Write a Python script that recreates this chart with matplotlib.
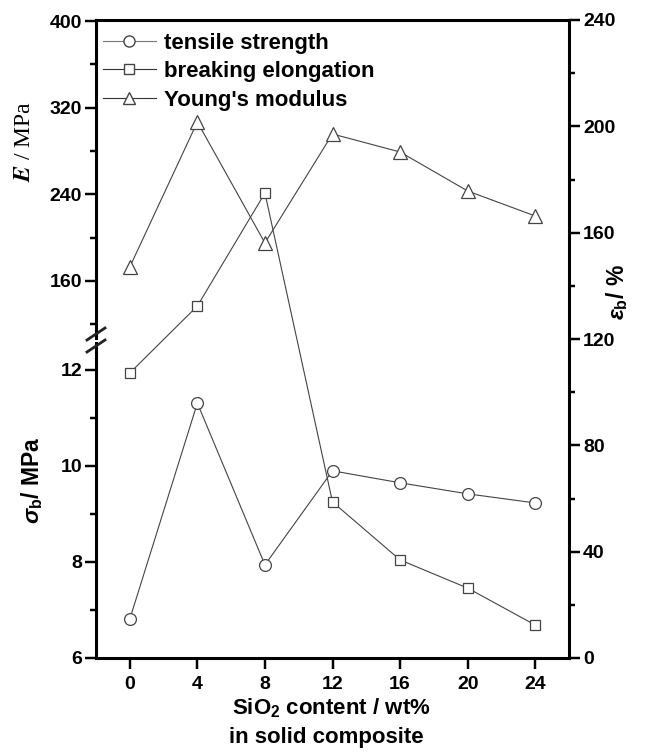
import matplotlib
matplotlib.use("Agg")
import matplotlib.pyplot as plt
from matplotlib.ticker import MultipleLocator
from matplotlib.lines import Line2D

plt.rcParams['font.family'] = ['Liberation Sans', 'DejaVu Sans']
plt.rcParams['font.weight'] = 'bold'
plt.rcParams['mathtext.fontset'] = 'custom'
plt.rcParams['mathtext.rm'] = 'Liberation Sans:bold'
plt.rcParams['mathtext.it'] = 'Liberation Sans:italic:bold'
plt.rcParams['mathtext.bf'] = 'Liberation Sans:bold'

# SiO2 content (wt%)
sio2 = [0, 4, 8, 12, 16, 20, 24]
# tensile strength sigma_b (MPa), left lower axis
tensile = [6.81, 11.31, 7.94, 9.90, 9.65, 9.42, 9.23]
# breaking elongation eps_b (%), right axis
elongation = [107.2, 132.4, 174.9, 58.7, 36.9, 26.3, 12.4]
# Young's modulus E (MPa), left upper axis
modulus = [172.9, 306.8, 195.1, 295.7, 279.1, 243.1, 220.0]

W, H = 652, 754
fig = plt.figure(figsize=(W / 100, H / 100), dpi=100)

def box(l, t, r, b):
    return [l / W, 1 - b / H, (r - l) / W, (b - t) / H]

lc = '#444444'
lw_sp = 2.2
tick_kw = dict(labelsize=14, width=lw_sp * 0.8, length=8, direction='out', pad=2)

# main axes: right axis eps_b, bottom x axis
ax = fig.add_axes(box(96, 20, 569, 658))
ax.set_xlim(-2, 26)
ax.set_ylim(0, 240)
ax.yaxis.tick_right()
ax.yaxis.set_major_locator(MultipleLocator(40))
ax.yaxis.set_minor_locator(MultipleLocator(20))
ax.set_xticks(sio2)
ax.spines['left'].set_visible(False)
for s in ['top', 'right', 'bottom']:
    ax.spines[s].set_linewidth(lw_sp)
ax.tick_params(axis='both', which='major', **tick_kw)
ax.tick_params(axis='x', pad=5)
ax.tick_params(axis='y', which='minor', width=lw_sp * 0.8, length=4, direction='out')
for t in ax.get_xticklabels() + ax.get_yticklabels():
    t.set_fontweight('bold')
ax.plot(sio2, elongation, '-', color=lc, lw=0.8, marker='s', ms=7.5,
        mfc='white', mec=lc, mew=0.9)

# lower left axis: sigma_b
ax_low = fig.add_axes(box(96, 343, 569, 658), sharex=ax)
ax_low.patch.set_visible(False)
ax_low.set_ylim(6, 6 + 315 / 48)
# upper left axis: E
ax_high = fig.add_axes(box(96, 20, 569, 338), sharex=ax)
ax_high.patch.set_visible(False)
ax_high.set_ylim(160 - 57 / 1.0833, 160 + 261 / 1.0833)

for a, maj, mnr in [(ax_low, 2, 1), (ax_high, 80, 40)]:
    for s in ['top', 'right', 'bottom']:
        a.spines[s].set_visible(False)
    a.spines['left'].set_linewidth(lw_sp)
    a.yaxis.set_major_locator(MultipleLocator(maj))
    a.yaxis.set_minor_locator(MultipleLocator(mnr))
    a.tick_params(axis='y', which='major', **tick_kw)
    a.tick_params(axis='y', which='minor', width=lw_sp * 0.8, length=4, direction='out')
    a.tick_params(axis='x', bottom=False, labelbottom=False)
    for t in a.get_yticklabels():
        t.set_fontweight('bold')

ax_low.plot(sio2, tensile, '-', color=lc, lw=0.8, marker='o', ms=8.5,
            mfc='white', mec=lc, mew=0.9)
ax_high.plot(sio2, modulus, '-', color=lc, lw=0.8, marker='^', ms=10,
             mfc='white', mec=lc, mew=0.9)

# break marks on left spine
for yb in (334, 346):
    fig.add_artist(Line2D([87 / W, 105 / W], [1 - (yb + 6) / H, 1 - (yb - 6) / H],
                          color='#222222', lw=2.0))

handles = [
    Line2D([], [], color='#777777', lw=0.8, marker='o', ms=8, mfc='white', mec=lc),
    Line2D([], [], color='#333333', lw=0.8, marker='s', ms=7, mfc='white', mec=lc),
    Line2D([], [], color='#333333', lw=0.8, marker='^', ms=9, mfc='white', mec=lc),
]
labels = ['tensile strength', 'breaking elongation', "Young's modulus"]
ax_high.legend(handles, labels, loc='upper left', frameon=False,
               prop=dict(size=16, weight='bold'), handlelength=2.4,
               handletextpad=0.35, labelspacing=0.34,
               bbox_to_anchor=(0.0, 1.0 - 6 / 318), borderaxespad=0.0,
               borderpad=0.3)

fig.text(24 / W, 1 - 141 / H, r'$E$ / MPa', rotation=90, ha='center', va='center',
         fontsize=17, family='Liberation Serif', fontweight='normal',
         math_fontfamily='stix')
fig.text(32 / W, 1 - 480 / H, r'$\sigma_\mathrm{b}$/ MPa', rotation=90,
         ha='center', va='center', fontsize=16.5, fontweight='bold')
fig.text(617 / W, 1 - 292 / H, r'$\epsilon_\mathrm{b}$/ %', rotation=90,
         ha='center', va='center', fontsize=16.5, fontweight='bold')
fig.text(331 / W, 1 - 708 / H, r'SiO$_\mathrm{2}$ content / wt%', ha='center',
         va='center', fontsize=16, fontweight='bold')
fig.text(326 / W, 1 - 737 / H, 'in solid composite', ha='center',
         va='center', fontsize=16, fontweight='bold')

fig.savefig('out.png', dpi=100)
